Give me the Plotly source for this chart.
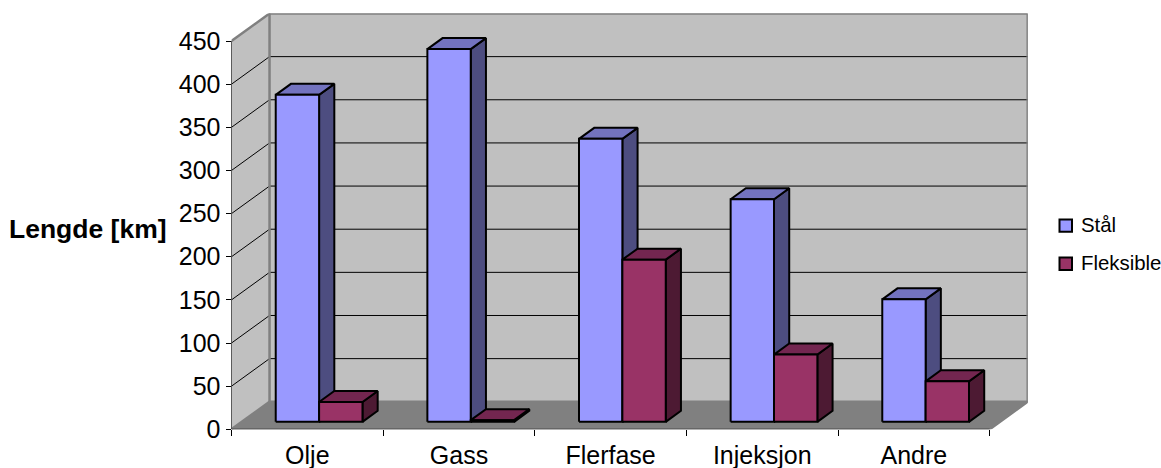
import plotly.graph_objects as go

# Pipeline length per service type
categories = ["Olje", "Gass", "Flerfase", "Injeksjon", "Andre"]
steel_km = [379, 432, 328, 258, 142]
flexible_km = [23, 2, 188, 78, 47]
y_ticks = [0, 50, 100, 150, 200, 250, 300, 350, 400, 450]
series_names = ["Stål", "Fleksible"]

W, H = 1161, 468
LEFT, RIGHT, TOP, BOTTOM = 231.5, 1027.7, 13.5, 429.3

# Oblique projection: how far one full unit of depth shifts a point
DEPTH_X = 0.2508   # in categories
DEPTH_Y = 31.9     # in km
Y_MAX = 450

# Bar placement inside a category slot and along the depth axis
GAP = 0.224
BAR_W = 0.286
D_FRONT, D_BACK = 0.27, 0.67

COL = {
    "steel": ("#9999FF", "#7373BF", "#4D4D80"),
    "flex": ("#993366", "#732650", "#4D1A33"),
}
WALL, FLOOR, EDGE = "#C0C0C0", "#808080", "#808080"


def project(x, km, depth):
    return x + depth * DEPTH_X, km + depth * DEPTH_Y


def polygon(points, color, line="black", width=2):
    xs, ys = zip(*[project(*p) for p in points + points[:1]])
    return go.Scatter(x=xs, y=ys, mode="lines", fill="toself", fillcolor=color,
                      line=dict(color=line, width=width), hoverinfo="skip",
                      showlegend=False)


def path(points, color, width):
    xs, ys = [], []
    for p in points:
        if p is None:
            xs.append(None)
            ys.append(None)
        else:
            px, py = project(*p)
            xs.append(px)
            ys.append(py)
    return go.Scatter(x=xs, y=ys, mode="lines", line=dict(color=color, width=width),
                      hoverinfo="skip", showlegend=False)


def box(x0, x1, km, colors):
    front, top, side = colors
    return [
        polygon([(x1, 0, D_FRONT), (x1, 0, D_BACK), (x1, km, D_BACK), (x1, km, D_FRONT)], side),
        polygon([(x0, km, D_FRONT), (x1, km, D_FRONT), (x1, km, D_BACK), (x0, km, D_BACK)], top),
        polygon([(x0, 0, D_FRONT), (x1, 0, D_FRONT), (x1, km, D_FRONT), (x0, km, D_FRONT)], front),
    ]


n = len(categories)
fig = go.Figure()

# Chart box: side wall, back wall, floor
fig.add_trace(polygon([(0, 0, 0), (0, Y_MAX, 0), (0, Y_MAX, 1), (0, 0, 1)], WALL, EDGE, 1))
fig.add_trace(polygon([(0, 0, 1), (n, 0, 1), (n, Y_MAX, 1), (0, Y_MAX, 1)], WALL, EDGE, 1))
fig.add_trace(polygon([(0, 0, 0), (n, 0, 0), (n, 0, 1), (0, 0, 1)], FLOOR, EDGE, 1))

# Gridlines wrap from the axis over the side wall and along the back wall
grid = []
for v in y_ticks[1:-1]:
    grid += [(0, v, 0), (0, v, 1), (n, v, 1), None]
fig.add_trace(path(grid, "black", 1))

# Heavier grey outline of the walls
fig.add_trace(path([(0, Y_MAX, 0), (0, Y_MAX, 1), (n, Y_MAX, 1), (n, 0, 1), (n, 0, 0), None,
                    (0, Y_MAX, 1), (0, 0, 1), (n, 0, 1), None, (0, 0, 0), (0, 0, 1)], EDGE, 2.5))

# Axis lines
fig.add_trace(path([(0, Y_MAX, 0), (0, 0, 0), (n, 0, 0)], "black", 1))

# Boxes, back to front within each slot
for i in range(n):
    a = i + GAP
    b = a + BAR_W
    c = b + BAR_W
    for tr in box(a, b, steel_km[i], COL["steel"]) + box(b, c, flexible_km[i], COL["flex"]):
        fig.add_trace(tr)

fig.add_annotation(text="<b>Lengde [km]</b>", xref="paper", yref="paper", showarrow=False,
                   x=88 / W, y=1 - 229 / H, xanchor="center", yanchor="middle",
                   font=dict(size=26.5, color="black", family="Liberation Sans"))

# Compact key at the right edge: swatch and label per series
for name, key, cy in zip(series_names, ("steel", "flex"), (225.6, 263.7)):
    fig.add_shape(type="rect", xref="paper", yref="paper",
                  x0=1059.5 / W, x1=1072 / W, y0=1 - (cy + 6.2) / H, y1=1 - (cy - 6.2) / H,
                  fillcolor=COL[key][0], line=dict(color="black", width=2))
    fig.add_annotation(text=name, xref="paper", yref="paper", showarrow=False,
                       x=1079 / W, y=1 - (cy - 0.5) / H, xanchor="left", yanchor="middle",
                       font=dict(size=20.4, color="black", family="Liberation Sans"))

fig.update_layout(
    width=W, height=H, margin=dict(l=0, r=0, t=0, b=0, autoexpand=False),
    paper_bgcolor="white", plot_bgcolor="white", showlegend=False,
    font=dict(family="Liberation Sans", color="black", size=25),
    xaxis=dict(domain=[LEFT / W, RIGHT / W], range=[0, n + DEPTH_X], showgrid=False,
               zeroline=False, showline=False, tickmode="array",
               tickvals=[i + 0.5 for i in range(n)], ticktext=categories, ticks="",
               ticklabelstandoff=9,
               minor=dict(tickmode="array", tickvals=list(range(n + 1)), ticks="outside",
                          ticklen=6, tickcolor="black", tickwidth=1, showgrid=False)),
    yaxis=dict(domain=[1 - BOTTOM / H, 1 - TOP / H], range=[0, Y_MAX + DEPTH_Y], showgrid=False,
               zeroline=False, showline=False, tickmode="array", tickvals=y_ticks,
               ticks="outside", ticklen=5, tickcolor="black", tickwidth=1),
)

fig.write_html("out.html")
